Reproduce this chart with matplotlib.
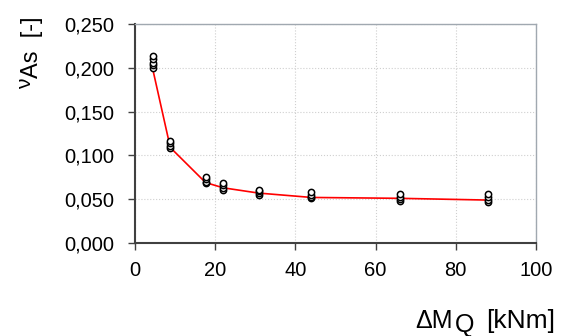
import matplotlib
matplotlib.use("Agg")
import matplotlib.pyplot as plt
import numpy as np
from matplotlib.ticker import FuncFormatter

plt.rcParams['font.family'] = ['Liberation Sans', 'DejaVu Sans']

# load steps dM_Q [kNm]
dMQ = [4.4, 8.8, 17.6, 22.0, 30.8, 44.0, 66.0, 88.0]
# single results per load step
vAs_points = [
    [0.200, 0.203, 0.206, 0.210, 0.214],
    [0.108, 0.111, 0.114, 0.116],
    [0.068, 0.070, 0.073, 0.075],
    [0.061, 0.063, 0.066, 0.069],
    [0.055, 0.057, 0.059, 0.061],
    [0.051, 0.053, 0.055, 0.058],
    [0.048, 0.050, 0.053, 0.056],
    [0.047, 0.049, 0.052, 0.056],
]
# curve through results
vAs_line = [0.199, 0.109, 0.069, 0.063, 0.057, 0.052, 0.051, 0.049]

W, H = 564, 336
fig = plt.figure(figsize=(W / 100, H / 100), dpi=100)
ax = fig.add_axes([135 / W, 1 - 243 / H, 401 / W, 219 / H])

ax.plot(dMQ, vAs_line, color='red', lw=1.2, zorder=2)
for x, ys in zip(dMQ, vAs_points):
    ax.plot([x] * len(ys), ys, linestyle='none', marker='o', ms=4.5,
            mfc='white', mec='black', mew=1.1, zorder=3)

ax.set_xlim(0, 100)
ax.set_ylim(0, 0.25)
ax.set_xticks(np.arange(0, 101, 20))
ax.set_yticks(np.arange(0, 0.2501, 0.05))
ax.yaxis.set_major_formatter(FuncFormatter(lambda v, p: f'{v:.3f}'.replace('.', ',')))
ax.grid(True, linestyle=':', color='#cfcfcf', lw=0.8)
ax.set_axisbelow(True)

for s in ['left', 'bottom']:
    ax.spines[s].set_color('#404040')
    ax.spines[s].set_linewidth(1.5)
for s in ['top', 'right']:
    ax.spines[s].set_color('#a0a8b0')
    ax.spines[s].set_linewidth(1.0)
ax.tick_params(direction='out', length=5, width=1, color='#404040', labelsize=14.5)
ax.tick_params(axis='y', pad=10)
ax.tick_params(axis='x', pad=8)

# y label: nu raised, then "As [-]"
fig.text(32 / W, 1 - 17 / H, 'As  [-]', rotation=90, ha='center', va='top', fontsize=17)
fig.text(26 / W, 1 - 84 / H, 'ν', rotation=90, ha='center', va='center', fontsize=15)

# x label: "ΔM" with lowered Q, then "[kNm]"
fig.text(415 / W, 1 - 328 / H, 'ΔM', fontsize=18, ha='left', va='baseline')
fig.text(455 / W, 1 - 332 / H, 'Q', fontsize=18, ha='left', va='baseline')
fig.text(555 / W, 1 - 328 / H, '[kNm]', fontsize=19, ha='right', va='baseline')

fig.savefig('out.png', dpi=100)
